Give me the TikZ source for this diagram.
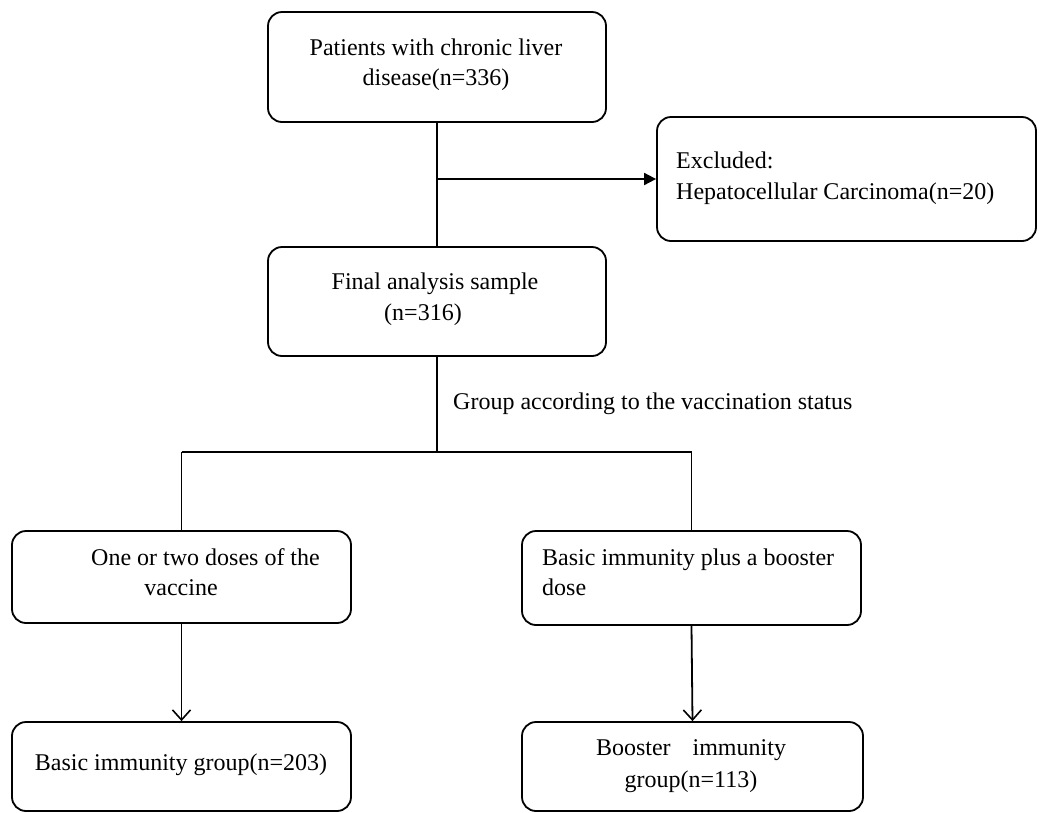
\documentclass[tikz,border=0pt]{standalone}
\usepackage{fontspec}
\setmainfont{Liberation Serif}
\usetikzlibrary{arrows.meta}
\begin{document}
\begin{tikzpicture}[x=1pt,y=-1pt,
  box/.style={draw,line width=1.8pt,rounded corners=14pt,inner sep=0pt},
  txt/.style={inner sep=0pt,font=\fontsize{24}{30}\selectfont},
  conn/.style={line width=1.8pt},
  filledarrow/.style={conn,-{Triangle[length=12pt,width=12pt]}},
  openarrow/.style={conn,-{Straight Barb[length=10pt,width=18pt,line width=1.6pt]}}]
\useasboundingbox (0,0) rectangle (1039,812);
% boxes
\node[box,minimum width=338pt,minimum height=110pt] (b1) at (437,67) {};
\node[box,minimum width=379pt,minimum height=124pt] (ex) at (846.5,179) {};
\node[box,minimum width=338pt,minimum height=109pt] (b2) at (437,301.5) {};
\node[box,minimum width=339pt,minimum height=92pt] (L) at (181.5,577) {};
\node[box,minimum width=339pt,minimum height=94pt] (R) at (691.5,578) {};
\node[box,minimum width=339pt,minimum height=89pt] (LB) at (181.5,766.5) {};
\node[box,minimum width=341pt,minimum height=89pt] (RB) at (692.5,766.5) {};
% texts
\node[txt,anchor=mid] (t1a) at (436,53) {Patients with chronic liver};
\node[txt,anchor=mid] (t1b) at (436,83) {disease(n=336)};
\node[txt,anchor=mid west] (texa) at (676,166) {Excluded:};
\node[txt,anchor=mid west] (texb) at (676,197) {Hepatocellular Carcinoma(n=20)};
\node[txt,anchor=mid] (t2a) at (435,287) {Final analysis sample};
\node[txt,anchor=mid] (t2b) at (423,318) {(n=316)};
\node[txt,anchor=mid west] (tg) at (453,407) {Group according to the vaccination status};
\node[txt,anchor=mid west] (tLa) at (91,563) {One or two doses of the};
\node[txt,anchor=mid] (tLb) at (181,593) {vaccine};
\node[txt,anchor=mid west] (tRa) at (542,563) {Basic immunity plus a booster};
\node[txt,anchor=mid west] (tRb) at (542,593) {dose};
\node[txt,anchor=mid] (tLB) at (181,768) {Basic immunity group(n=203)};
\node[txt,anchor=mid] (tRBa) at (691,753) {Booster\hspace{22pt}immunity};
\node[txt,anchor=mid] (tRBb) at (691,785) {group(n=113)};
% connectors
\coordinate (j1) at (b1.south |- ex.west);
\coordinate (j2) at (437,452);
\coordinate (jl) at (L.north |- j2);
\coordinate (jr) at (R.north |- j2);
\draw[conn] (b1.south) -- (b2.north);
\draw[filledarrow] (j1) -- (ex.west);
\draw[conn] (b2.south) -- (j2);
\draw[conn] (jl) -- (jr);
\draw[conn] (jl) -- (L.north);
\draw[conn] (jr) -- (R.north);
\draw[openarrow] (L.south) -- (LB.north);
\draw[openarrow] (R.south) -- (RB.north);
\end{tikzpicture}
\end{document}
